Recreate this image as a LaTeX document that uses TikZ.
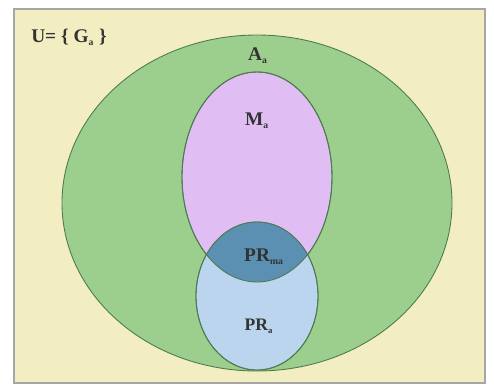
\documentclass[tikz,border=0pt]{standalone}
\usepackage{fontspec}
\setmainfont{Liberation Serif}
\usepackage{tikz}

\definecolor{cream}{HTML}{F3EDC2}
\definecolor{greenset}{HTML}{9CCF8D}
\definecolor{purpleset}{HTML}{E0BDF3}
\definecolor{blueset}{HTML}{BCD5EF}
\definecolor{overlap}{HTML}{5C90B2}
\definecolor{edge}{HTML}{4E7A52}

\tikzset{
  setlabel/.style={font=\bfseries\fontsize{11}{13}\selectfont, text=black!80},
  setedge/.style={draw=edge, line width=0.5pt}
}

\begin{document}
\begin{tikzpicture}[x=0.02cm, y=-0.02cm]
  \useasboundingbox (0,0) rectangle (494,387);
  % universe
  \filldraw[fill=cream, draw=gray!70, line width=1.2pt] (14,9) rectangle (485,383);
  % A, M, PR
  \filldraw[fill=greenset, setedge] (257,203) ellipse (195 and 168);
  \filldraw[fill=purpleset, setedge] (257,177) ellipse (75 and 105);
  \filldraw[fill=blueset, setedge] (257,296) ellipse (61 and 74);
  \begin{scope}
    \clip (257,177) ellipse (75 and 105);
    \fill[overlap] (257,296) ellipse (61 and 74);
  \end{scope}
  \draw[setedge] (257,177) ellipse (75 and 105);
  \draw[setedge] (257,296) ellipse (61 and 74);
  % labels
  \node[setlabel] (uni) at (69,37) {U= \{ G$_{\scriptscriptstyle\mathbf a}$ \}};
  \node[setlabel] (aset) at (258,56) {A$_{\scriptscriptstyle\mathbf a}$};
  \node[setlabel] (mset) at (257,121) {M$_{\scriptscriptstyle\mathbf a}$};
  \node[setlabel] (prma) at (264,257) {PR$_{\scriptscriptstyle\mathbf{ma}}$};
  \node[setlabel, font=\bfseries\fontsize{10}{12}\selectfont] (pra) at (259,326) {PR$_{\scriptscriptstyle\mathbf a}$};
\end{tikzpicture}
\end{document}
